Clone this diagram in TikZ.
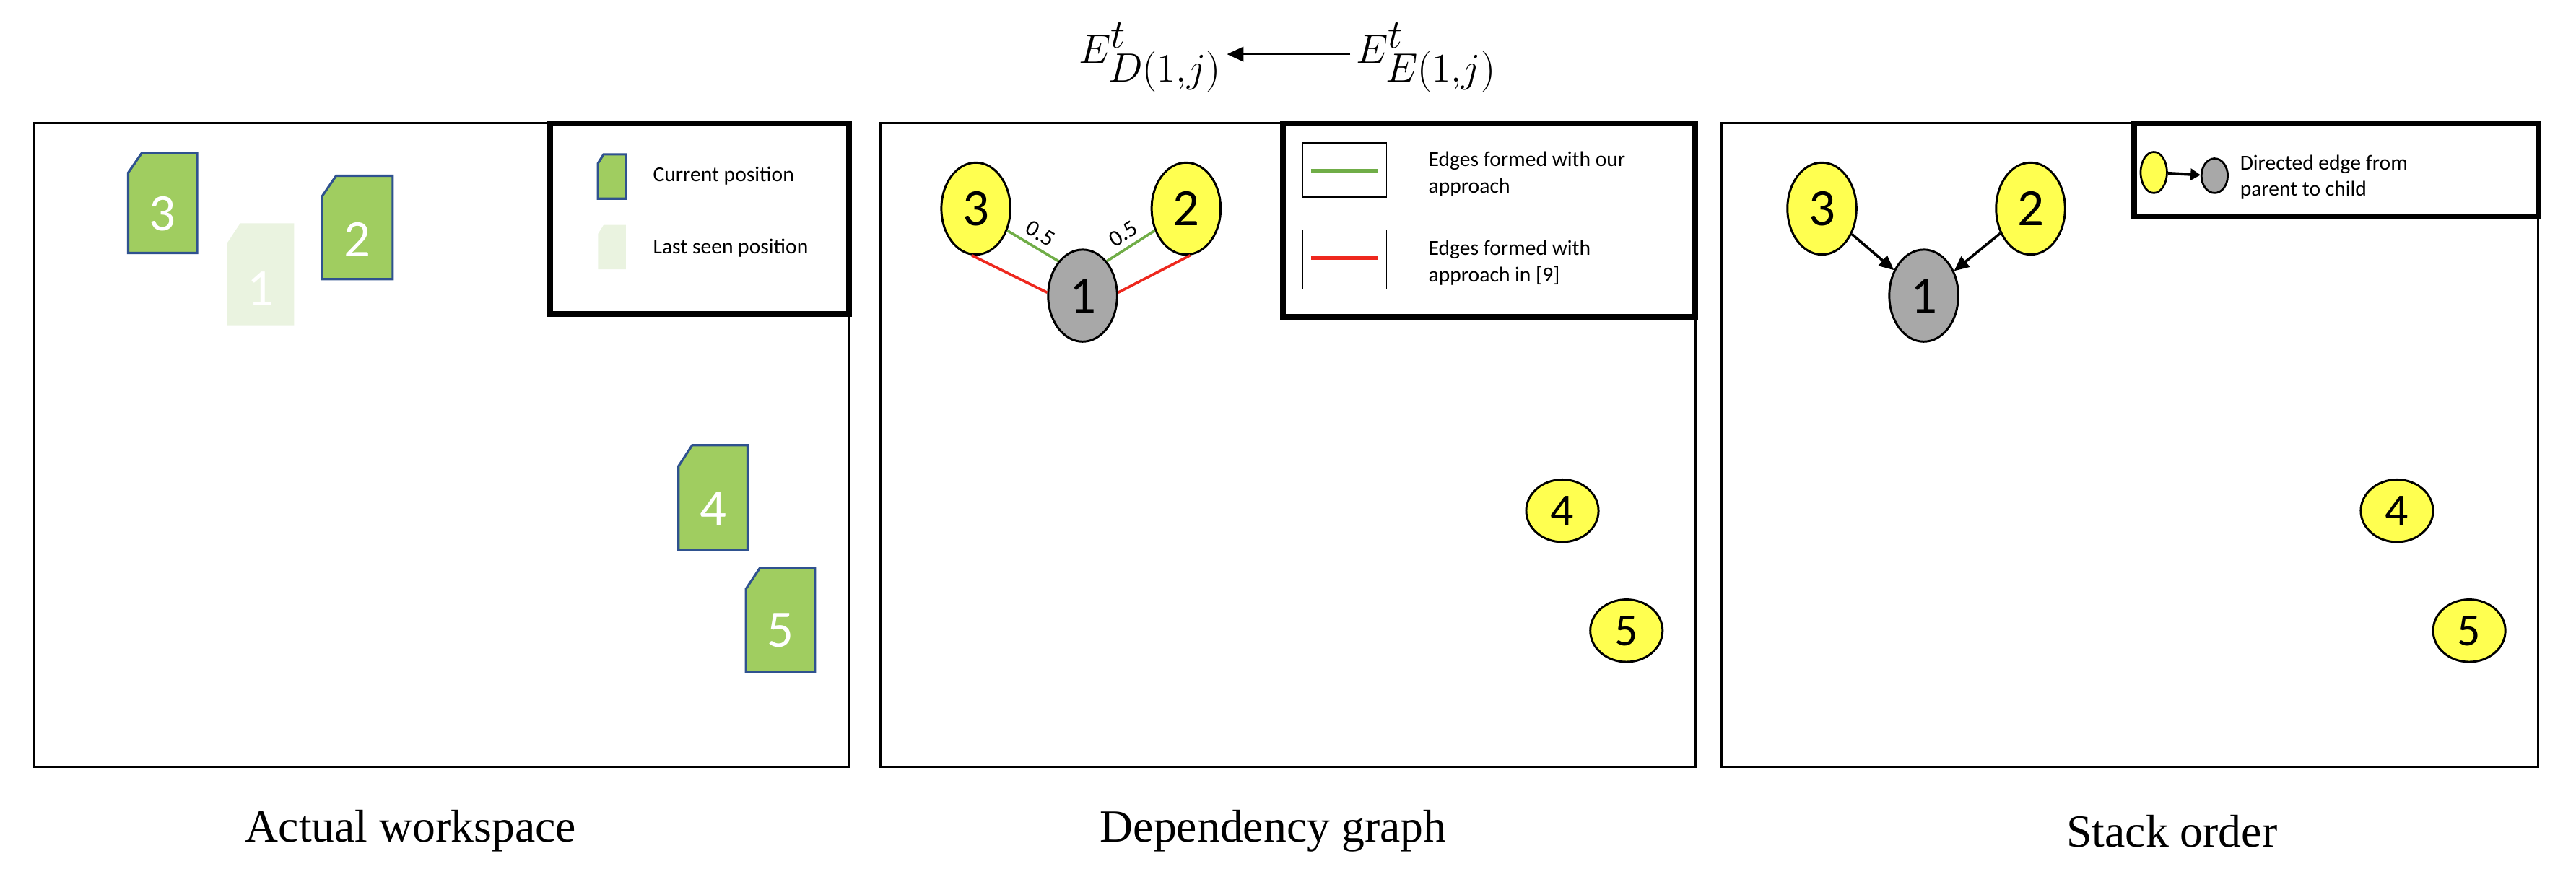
\documentclass[tikz,border=0pt]{standalone}
\usepackage{fontspec}
\setmainfont{Liberation Serif}
\newfontfamily\calfont{Carlito}
\usetikzlibrary{arrows.meta,shapes.geometric}
\definecolor{tagg}{RGB}{160,205,96}
\definecolor{tagb}{RGB}{47,82,143}
\definecolor{fade}{RGB}{234,243,224}
\definecolor{ny}{RGB}{255,255,80}
\definecolor{ng}{RGB}{168,168,168}
\definecolor{eg}{RGB}{112,173,71}
\definecolor{er}{RGB}{238,40,30}
\newcommand\tagshape[5]{% x1 y1 x2 y2 style
  \path[#5] ({#1+0.2*(#3-#1)},#2) -- (#3,#2) -- (#3,#4) -- (#1,#4) -- (#1,{#2+0.2*(#4-#2)}) -- cycle;}
\begin{document}
\begin{tikzpicture}[x=1pt,y=-1pt,
  panel/.style={draw,line width=1.4pt},
  legend/.style={draw,line width=3.5pt},
  cur/.style={fill=tagg,draw=tagb,line width=1.4pt},
  old/.style={fill=fade},
  lbl/.style={font=\calfont\fontsize{32}{32}\selectfont},
  ltxt/.style={font=\calfont\fontsize{13}{16}\selectfont,anchor=west,align=left},
  nd/.style={ellipse,draw,line width=1.3pt,minimum width=42pt,minimum height=56pt,inner sep=0pt,font=\calfont\fontsize{32}{32}\selectfont},
  nds/.style={ellipse,draw,line width=1.3pt,fill=ny,minimum width=44pt,minimum height=38pt,inner sep=0pt,font=\calfont\fontsize{28}{28}\selectfont},
  captxt/.style={font=\fontsize{28}{30}\selectfont},
  arr/.style={-{Triangle[length=9pt,width=8pt]},line width=1.6pt}]
\useasboundingbox (0,0) rectangle (1568,537);
% title
\node (ed) at (700,35) {\fontsize{34}{34}\selectfont$E^{t}_{D(1,j)}$};
\node (ee) at (868,35) {\fontsize{34}{34}\selectfont$E^{t}_{E(1,j)}$};
\draw[-{Triangle[length=10pt,width=9pt]},line width=1pt] (ee.west|-0,33) -- (ed.east|-0,33);
% panels
\draw[panel] (21,75) rectangle (517,467);
\draw[panel] (536,75) rectangle (1032,467);
\draw[panel] (1048,75) rectangle (1545,467);
\node[captxt] (c1) at (250,506) {Actual workspace};
\node[captxt] (c2) at (775,506) {Dependency graph};
\node[captxt] (c3) at (1322,506) {Stack order};
% panel 1
\tagshape{138}{136}{179}{198}{old}
\node[lbl,text=white] (t1) at (158.5,176) {1};
\tagshape{78}{93}{120}{154}{cur}
\node[lbl,text=white] (t3) at (99,130) {3};
\tagshape{196}{107}{239}{170}{cur}
\node[lbl,text=white] (t2) at (217.5,146) {2};
\tagshape{413}{271}{455}{335}{cur}
\node[lbl,text=white] (t4) at (434,310) {4};
\tagshape{454}{346}{496}{409}{cur}
\node[lbl,text=white] (t5) at (475,384) {5};
\draw[legend] (335,75) rectangle (517,191);
\tagshape{364}{94}{381}{121}{cur}
\tagshape{364}{137}{381}{164}{old}
\node[ltxt] (lc) at (394,107) {Current position};
\node[ltxt] (ll) at (394,151) {Last seen position};
% panel 2
\node[nd,fill=ny] (a3) at (594,127) {3};
\node[nd,fill=ny] (a2) at (722,127) {2};
\node[nd,fill=ng] (a1) at (659,180) {1};
\node[nds] (a4) at (951,311) {4};
\node[nds] (a5) at (990,384) {5};
\draw[eg,line width=1.6pt] (a3.-35) -- node[sloped,above,font=\calfont\fontsize{14}{14}\selectfont,text=black] {0.5} (a1.125);
\draw[eg,line width=1.6pt] (a1.55) -- node[sloped,above,font=\calfont\fontsize{14}{14}\selectfont,text=black] {0.5} (a2.-145);
\draw[er,line width=1.6pt] (a3.-95) -- (a1.175);
\draw[er,line width=1.6pt] (a2.-85) -- (a1.5);
\draw[legend] (781,75) rectangle (1032,193);
\draw[line width=0.8pt] (793,87) rectangle (844,120);
\draw[eg,line width=2.2pt] (798,104) -- (839,104);
\draw[line width=0.8pt] (793,140) rectangle (844,176);
\draw[er,line width=2.2pt] (798,157) -- (839,157);
\node[ltxt] (l21) at (866,106) {Edges formed with our\\approach};
\node[ltxt] (l22) at (866,160) {Edges formed with\\approach in [9]};
% panel 3
\node[nd,fill=ny] (b3) at (1109,127) {3};
\node[nd,fill=ny] (b2) at (1236,127) {2};
\node[nd,fill=ng] (b1) at (1171,180) {1};
\node[nds] (b4) at (1459,311) {4};
\node[nds] (b5) at (1503,384) {5};
\draw[arr] (b3) -- (b1);
\draw[arr] (b2) -- (b1);
\draw[legend] (1299,75) rectangle (1545,132);
\node[ellipse,draw,line width=1.2pt,fill=ny,minimum width=16pt,minimum height=25pt,inner sep=0pt] (lp) at (1311,105) {};
\node[ellipse,draw,line width=1.2pt,fill=ng,minimum width=16pt,minimum height=21pt,inner sep=0pt] (lq) at (1348,107) {};
\draw[-{Triangle[length=6pt,width=7pt]},line width=1.8pt] (lp) -- (lq);
\node[ltxt] (l3) at (1360,108) {Directed edge from\\parent to child};
\end{tikzpicture}
\end{document}
